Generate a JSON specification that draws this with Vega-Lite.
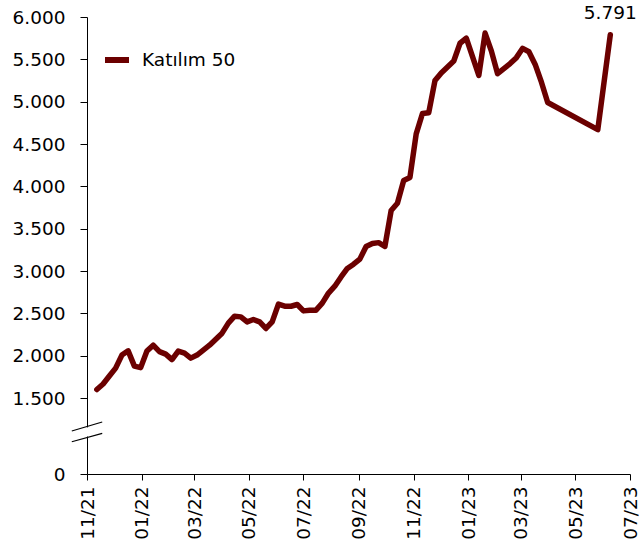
{
  "$schema": "https://vega.github.io/schema/vega-lite/v6.json",
  "width": 543,
  "height": 457,
  "autosize": "none",
  "padding": {"left": 87, "top": 17, "right": 10, "bottom": 76},
  "config": {
    "view": {"stroke": null},
    "font": "DejaVu Sans",
    "locale": {"number": {"decimal": ",", "thousands": ".", "grouping": [3], "currency": ["", ""]}}
  },
  "datasets": {
    "main": [
      {"date": "2021-11-12", "value": 1600, "series": "Katılım 50"},
      {"date": "2021-11-19", "value": 1665, "series": "Katılım 50"},
      {"date": "2021-11-26", "value": 1759, "series": "Katılım 50"},
      {"date": "2021-12-03", "value": 1853, "series": "Katılım 50"},
      {"date": "2021-12-10", "value": 2007, "series": "Katılım 50"},
      {"date": "2021-12-17", "value": 2057, "series": "Katılım 50"},
      {"date": "2021-12-24", "value": 1877, "series": "Katılım 50"},
      {"date": "2021-12-31", "value": 1859, "series": "Katılım 50"},
      {"date": "2022-01-07", "value": 2054, "series": "Katılım 50"},
      {"date": "2022-01-14", "value": 2124, "series": "Katılım 50"},
      {"date": "2022-01-21", "value": 2048, "series": "Katılım 50"},
      {"date": "2022-01-28", "value": 2018, "series": "Katılım 50"},
      {"date": "2022-02-04", "value": 1954, "series": "Katılım 50"},
      {"date": "2022-02-11", "value": 2054, "series": "Katılım 50"},
      {"date": "2022-02-18", "value": 2030, "series": "Katılım 50"},
      {"date": "2022-02-25", "value": 1971, "series": "Katılım 50"},
      {"date": "2022-03-04", "value": 2007, "series": "Katılım 50"},
      {"date": "2022-03-11", "value": 2066, "series": "Katılım 50"},
      {"date": "2022-03-18", "value": 2124, "series": "Katılım 50"},
      {"date": "2022-03-25", "value": 2195, "series": "Katılım 50"},
      {"date": "2022-04-01", "value": 2266, "series": "Katılım 50"},
      {"date": "2022-04-08", "value": 2384, "series": "Katılım 50"},
      {"date": "2022-04-15", "value": 2466, "series": "Katılım 50"},
      {"date": "2022-04-22", "value": 2458, "series": "Katılım 50"},
      {"date": "2022-04-29", "value": 2399, "series": "Katılım 50"},
      {"date": "2022-05-06", "value": 2427, "series": "Katılım 50"},
      {"date": "2022-05-13", "value": 2400, "series": "Katılım 50"},
      {"date": "2022-05-20", "value": 2321, "series": "Katılım 50"},
      {"date": "2022-05-27", "value": 2400, "series": "Katılım 50"},
      {"date": "2022-06-03", "value": 2608, "series": "Katılım 50"},
      {"date": "2022-06-10", "value": 2584, "series": "Katılım 50"},
      {"date": "2022-06-17", "value": 2584, "series": "Katılım 50"},
      {"date": "2022-06-24", "value": 2604, "series": "Katılım 50"},
      {"date": "2022-07-01", "value": 2529, "series": "Katılım 50"},
      {"date": "2022-07-08", "value": 2537, "series": "Katılım 50"},
      {"date": "2022-07-15", "value": 2537, "series": "Katılım 50"},
      {"date": "2022-07-22", "value": 2620, "series": "Katılım 50"},
      {"date": "2022-07-29", "value": 2740, "series": "Katılım 50"},
      {"date": "2022-08-05", "value": 2820, "series": "Katılım 50"},
      {"date": "2022-08-12", "value": 2930, "series": "Katılım 50"},
      {"date": "2022-08-19", "value": 3030, "series": "Katılım 50"},
      {"date": "2022-08-26", "value": 3080, "series": "Katılım 50"},
      {"date": "2022-09-02", "value": 3140, "series": "Katılım 50"},
      {"date": "2022-09-09", "value": 3290, "series": "Katılım 50"},
      {"date": "2022-09-16", "value": 3325, "series": "Katılım 50"},
      {"date": "2022-09-23", "value": 3335, "series": "Katılım 50"},
      {"date": "2022-09-30", "value": 3290, "series": "Katılım 50"},
      {"date": "2022-10-07", "value": 3715, "series": "Katılım 50"},
      {"date": "2022-10-14", "value": 3800, "series": "Katılım 50"},
      {"date": "2022-10-21", "value": 4070, "series": "Katılım 50"},
      {"date": "2022-10-28", "value": 4105, "series": "Katılım 50"},
      {"date": "2022-11-04", "value": 4620, "series": "Katılım 50"},
      {"date": "2022-11-11", "value": 4860, "series": "Katılım 50"},
      {"date": "2022-11-18", "value": 4870, "series": "Katılım 50"},
      {"date": "2022-11-25", "value": 5250, "series": "Katılım 50"},
      {"date": "2022-12-02", "value": 5340, "series": "Katılım 50"},
      {"date": "2022-12-09", "value": 5410, "series": "Katılım 50"},
      {"date": "2022-12-16", "value": 5480, "series": "Katılım 50"},
      {"date": "2022-12-23", "value": 5690, "series": "Katılım 50"},
      {"date": "2022-12-30", "value": 5750, "series": "Katılım 50"},
      {"date": "2023-01-13", "value": 5310, "series": "Katılım 50"},
      {"date": "2023-01-20", "value": 5810, "series": "Katılım 50"},
      {"date": "2023-01-27", "value": 5600, "series": "Katılım 50"},
      {"date": "2023-02-03", "value": 5330, "series": "Katılım 50"},
      {"date": "2023-02-10", "value": 5390, "series": "Katılım 50"},
      {"date": "2023-02-17", "value": 5450, "series": "Katılım 50"},
      {"date": "2023-02-24", "value": 5520, "series": "Katılım 50"},
      {"date": "2023-03-03", "value": 5630, "series": "Katılım 50"},
      {"date": "2023-03-10", "value": 5590, "series": "Katılım 50"},
      {"date": "2023-03-17", "value": 5440, "series": "Katılım 50"},
      {"date": "2023-03-24", "value": 5230, "series": "Katılım 50"},
      {"date": "2023-03-31", "value": 4990, "series": "Katılım 50"},
      {"date": "2023-05-26", "value": 4670, "series": "Katılım 50"},
      {"date": "2023-06-09", "value": 5791, "series": "Katılım 50"}
    ]
  },
  "layer": [
    {
      "data": {"name": "main"},
      "mark": {"type": "line", "strokeWidth": 5.5, "strokeCap": "round", "strokeJoin": "round"},
      "encoding": {
        "x": {
          "field": "date",
          "type": "temporal",
          "scale": {
            "type": "utc",
            "nice": false,
            "domain": [
              {"year": 2021, "month": 11, "date": 1, "utc": true},
              {"year": 2023, "month": 7, "date": 1, "utc": true}
            ]
          },
          "axis": {
            "title": null,
            "grid": false,
            "format": "%m/%y",
            "labelAngle": -90,
            "labelFontSize": 18.5,
            "labelColor": "black",
            "labelPadding": 6,
            "tickSize": 6,
            "tickColor": "black",
            "domainColor": "black",
            "labelFont": "DejaVu Sans",
            "values": [
              {"year": 2021, "month": 11, "date": 1, "utc": true},
              {"year": 2022, "month": 1, "date": 1, "utc": true},
              {"year": 2022, "month": 3, "date": 1, "utc": true},
              {"year": 2022, "month": 5, "date": 1, "utc": true},
              {"year": 2022, "month": 7, "date": 1, "utc": true},
              {"year": 2022, "month": 9, "date": 1, "utc": true},
              {"year": 2022, "month": 11, "date": 1, "utc": true},
              {"year": 2023, "month": 1, "date": 1, "utc": true},
              {"year": 2023, "month": 3, "date": 1, "utc": true},
              {"year": 2023, "month": 5, "date": 1, "utc": true},
              {"year": 2023, "month": 7, "date": 1, "utc": true}
            ]
          }
        },
        "y": {
          "field": "value",
          "type": "quantitative",
          "scale": {"domain": [0, 1500, 6000], "range": [457, 381, 0], "nice": false, "zero": false},
          "axis": {
            "title": null,
            "grid": false,
            "values": [0, 1500, 2000, 2500, 3000, 3500, 4000, 4500, 5000, 5500, 6000],
            "labelExpr": "replace(format(datum.value, ',d'), ',', '.')",
            "labelFontSize": 18.5,
            "labelColor": "black",
            "labelPadding": 15,
            "tickSize": 7,
            "tickColor": "black",
            "domainColor": "black",
            "labelFont": "DejaVu Sans"
          }
        },
        "color": {
          "field": "series",
          "type": "nominal",
          "scale": {"range": ["#6B0000"]},
          "legend": {
            "title": null,
            "orient": "none",
            "legendX": 15,
            "legendY": 28,
            "padding": 0,
            "symbolType": "stroke",
            "symbolSize": 576,
            "symbolStrokeWidth": 6,
            "labelFontSize": 18.5,
            "labelOffset": 10,
            "labelColor": "black",
            "labelFont": "DejaVu Sans"
          }
        }
      }
    },
    {
      "data": {"name": "main"},
      "transform": [
        {"filter": "datum.value == 5791"},
        {"calculate": "replace(format(datum.value, ',d'), ',', '.')", "as": "label"}
      ],
      "mark": {"type": "text", "baseline": "bottom", "dy": -12, "fontSize": 18.5, "color": "black", "font": "DejaVu Sans"},
      "encoding": {
        "x": {"field": "date", "type": "temporal"},
        "y": {"field": "value", "type": "quantitative"},
        "text": {"field": "label", "type": "nominal"}
      }
    },
    {
      "data": {"values": [{}]},
      "mark": {"type": "rule", "color": "white", "strokeWidth": 4},
      "encoding": {
        "x": {"datum": {"year": 2021, "month": 11, "date": 1, "utc": true}, "type": "temporal"},
        "y": {"datum": 740, "type": "quantitative"},
        "y2": {"datum": 920}
      }
    },
    {
      "data": {"values": [{}]},
      "mark": {"type": "rule", "color": "black", "strokeWidth": 1.2},
      "encoding": {
        "x": {"datum": {"year": 2021, "month": 10, "date": 15, "utc": true}, "type": "temporal"},
        "x2": {"datum": {"year": 2021, "month": 11, "date": 18, "utc": true}},
        "y": {"datum": 849, "type": "quantitative"},
        "y2": {"datum": 1026}
      }
    },
    {
      "data": {"values": [{}]},
      "mark": {"type": "rule", "color": "black", "strokeWidth": 1.2},
      "encoding": {
        "x": {"datum": {"year": 2021, "month": 10, "date": 15, "utc": true}, "type": "temporal"},
        "x2": {"datum": {"year": 2021, "month": 11, "date": 18, "utc": true}},
        "y": {"datum": 637, "type": "quantitative"},
        "y2": {"datum": 803}
      }
    }
  ]
}
